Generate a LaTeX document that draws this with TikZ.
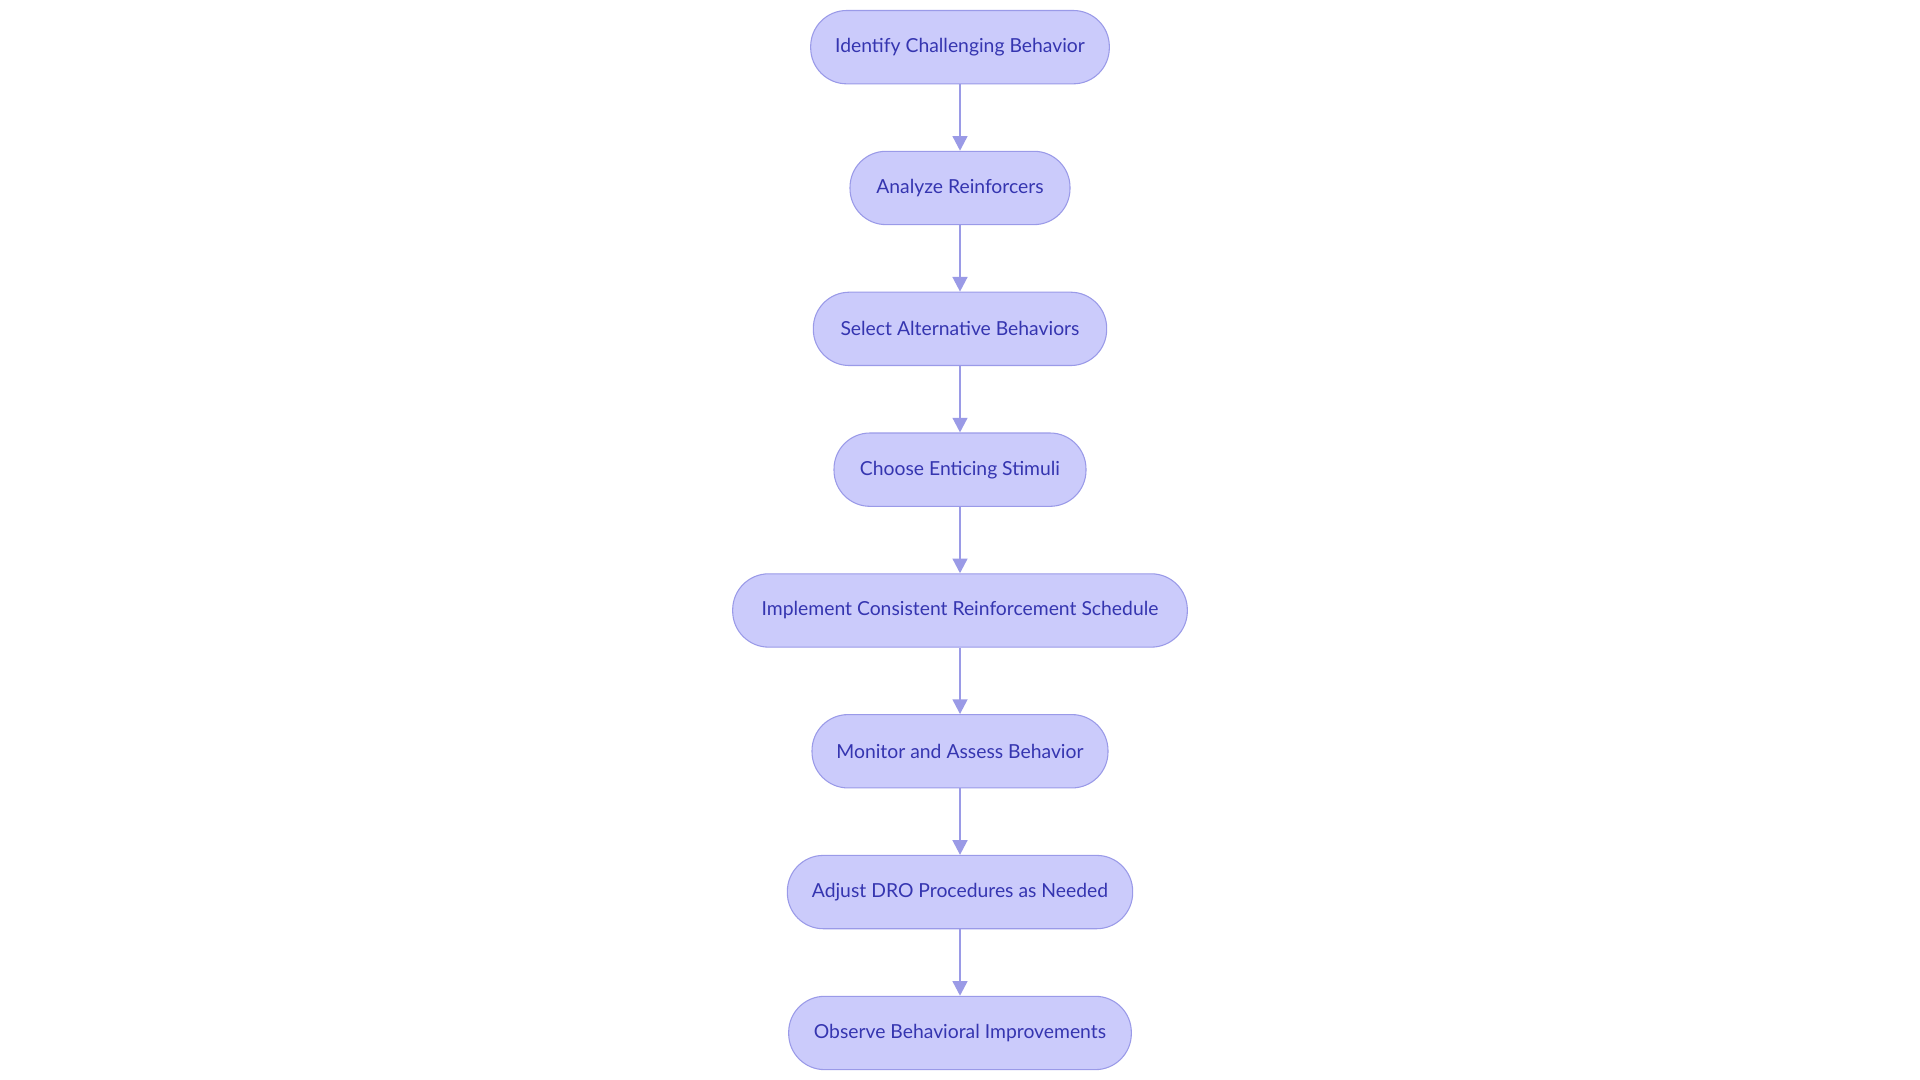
\documentclass[tikz,border=0pt]{standalone}
\usepackage{fontspec}
\setmainfont{Lato}
\usetikzlibrary{arrows.meta}
\definecolor{boxfill}{HTML}{CBCBFB}
\definecolor{boxdraw}{HTML}{9A9AE8}
\definecolor{txt}{HTML}{3535B0}
\definecolor{arr}{HTML}{9A9AE6}
\tikzset{
  stepbox/.style={draw=boxdraw, fill=boxfill, rounded corners=27pt, line width=0.8pt,
    minimum height=55pt, inner sep=0pt, text=txt, font=\fontsize{14.5}{17}\selectfont},
  conn/.style={draw=arr, line width=1.8pt, -{Triangle[length=11pt,width=11pt]}}
}
\begin{document}
\begin{tikzpicture}[x=0.75pt,y=-0.75pt]
\useasboundingbox[fill=white] (0,0) rectangle (1920,1080);
\begin{scope}[yshift=-0.5pt]
\node[stepbox, minimum width=224pt] (n1) at (960,46.5) {Identify Challenging Behavior};
\node[stepbox, minimum width=165pt] (n2) at (960,187.3) {Analyze Reinforcers};
\node[stepbox, minimum width=220pt] (n3) at (960,328.2) {Select Alternative Behaviors};
\node[stepbox, minimum width=189pt] (n4) at (960,469) {Choose Enticing Stimuli};
\node[stepbox, minimum width=341pt] (n5) at (960,609.8) {Implement Consistent Reinforcement Schedule};
\node[stepbox, minimum width=222pt] (n6) at (960,750.6) {Monitor and Assess Behavior};
\node[stepbox, minimum width=259pt] (n7) at (960,891.4) {Adjust DRO Procedures as Needed};
\node[stepbox, minimum width=257pt] (n8) at (960,1032.3) {Observe Behavioral Improvements};
\end{scope}
\foreach \a/\b in {n1/n2,n2/n3,n3/n4,n4/n5,n5/n6,n6/n7,n7/n8}
  \draw[conn] (\a) -- (\b);
\end{tikzpicture}
\end{document}
